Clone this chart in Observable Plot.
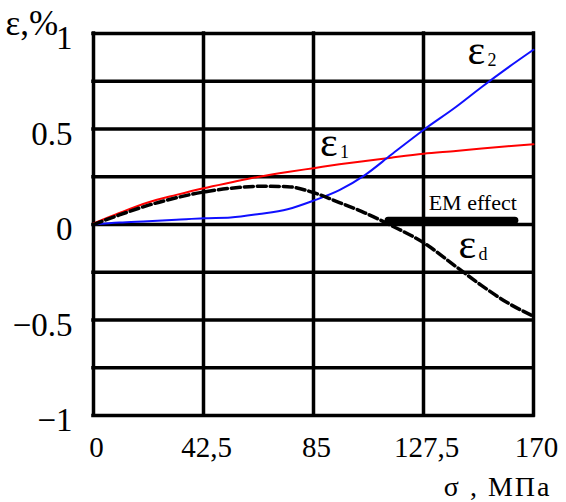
<!DOCTYPE html>
<html>
<head>
<meta charset="utf-8">
<script src="https://cdn.jsdelivr.net/npm/d3@7"></script>
<script src="https://cdn.jsdelivr.net/npm/@observablehq/plot@0.6"></script>
<style>
  html, body { margin: 0; padding: 0; background: #fff; }
  svg { display: block; }
</style>
</head>
<body>
<div id="chart"></div>
<script>
// ---- data ----
const sigma = [0, 10, 21, 32, 42.5, 53, 64, 75, 85, 95, 105, 115, 127.5, 140, 150, 160, 170];
const eps1  = [0.005, 0.06, 0.115, 0.155, 0.19, 0.22, 0.25, 0.275, 0.295, 0.315, 0.333, 0.35, 0.37, 0.385, 0.398, 0.41, 0.42];
const eps2  = [0.0, 0.01, 0.017, 0.025, 0.033, 0.037, 0.055, 0.08, 0.125, 0.18, 0.26, 0.365, 0.495, 0.615, 0.72, 0.82, 0.915];
const epsD  = [0.0, 0.05, 0.10, 0.14, 0.17, 0.19, 0.2, 0.198, 0.167, 0.115, 0.06, -0.005, -0.095, -0.22, -0.32, -0.41, -0.48];

const xTicks = [0, 42.5, 85, 127.5, 170];
const xTickLabels = ["0", "42,5", "85", "127,5", "170"];
const yTicks = [-1, -0.5, 0, 0.5, 1];
const yTickLabels = ["\u22121", "\u22120.5", "0", "0.5", "1"];
const yGrid = [-1, -0.75, -0.5, -0.25, 0, 0.25, 0.5, 0.75, 1];

const seriesNames = ["ε1", "ε2", "εd"];
const emRange = [114, 163];
const emLevel = 0.022;
const emLabel = "EM effect";
const xTitle = "σ , МПа";
const yTitle = "ε,%";

// curve labels: main glyph + subscript, anchored in data units
const curveLabels = [
  {main: "ε", sub: "1", x: 87.5, y: 0.36},
  {main: "ε", sub: "2", x: 144.5, y: 0.84},
  {main: "ε", sub: "d", x: 141, y: -0.175}
];

const rows = [];
sigma.forEach((s, i) => {
  rows.push({s, v: eps1[i], k: seriesNames[0]});
  rows.push({s, v: eps2[i], k: seriesNames[1]});
  rows.push({s, v: epsD[i], k: seriesNames[2]});
});

const serif = "Liberation Serif, Times New Roman, serif";

const plot = Plot.plot({
  width: 566,
  height: 502,
  marginLeft: 93,
  marginRight: 33,
  marginTop: 33,
  marginBottom: 87,
  x: {domain: [0, 170], axis: null},
  y: {domain: [-1, 1], axis: null},
  style: {background: "#fff", fontFamily: serif},
  marks: [
    Plot.ruleX(xTicks, {stroke: "black", strokeWidth: 3.5, strokeLinecap: "square"}),
    Plot.ruleY(yGrid, {stroke: "black", strokeWidth: 3.5, strokeLinecap: "square"}),
    Plot.axisY(yTicks, {
      tickSize: 0, tickPadding: 21, dy: 5,
      tickFormat: (d) => yTickLabels[yTicks.indexOf(d)],
      fontSize: 33, fontFamily: serif, fill: "black", label: null
    }),
    Plot.axisX(xTicks, {
      tickSize: 0, tickPadding: 21, dx: 3,
      tickFormat: (d) => xTickLabels[xTicks.indexOf(d)],
      fontSize: 29, fontFamily: serif, fill: "black", label: null
    }),
    Plot.text([yTitle], {
      frameAnchor: "top-left", textAnchor: "start", lineAnchor: "middle",
      dx: -88, dy: -10, fontSize: 35, fontFamily: serif, fill: "black"
    }),
    Plot.text([xTitle], {
      frameAnchor: "bottom-right", textAnchor: "end", lineAnchor: "bottom",
      dx: 18, dy: 80, fontSize: 28, fontFamily: serif, fill: "black",
      className: "xtitle"
    }),
    Plot.line(rows.filter(d => d.k === seriesNames[0]), {x: "s", y: "v", stroke: "#ff0000", strokeWidth: 2, curve: "monotone-x"}),
    Plot.line(rows.filter(d => d.k === seriesNames[1]), {x: "s", y: "v", stroke: "#1010ff", strokeWidth: 2, curve: "monotone-x"}),
    Plot.line(rows.filter(d => d.k === seriesNames[2]), {x: "s", y: "v", stroke: "black", strokeWidth: 3.5, strokeDasharray: "9,4", curve: "monotone-x"}),
    Plot.ruleY([emLevel], {x1: emRange[0], x2: emRange[1], stroke: "black", strokeWidth: 7, strokeLinecap: "round"}),
    Plot.text([emLabel], {x: 129.5, y: 0.075, textAnchor: "start", lineAnchor: "bottom", fontSize: 22, fontFamily: serif, fill: "black"}),
    Plot.text(curveLabels, {x: "x", y: "y", text: "main", textAnchor: "start", lineAnchor: "bottom", fontSize: 42, fontFamily: serif, fill: "black"}),
    Plot.text(curveLabels, {x: "x", y: "y", text: "sub", textAnchor: "start", lineAnchor: "bottom", dx: 20, dy: 2, fontSize: 18, fontFamily: serif, fill: "black"})
  ]
});

// the reference's axis title is set a little wider
d3.select(plot).selectAll("g.xtitle text").style("letter-spacing", "2px");

document.getElementById("chart").appendChild(plot);
</script>
</body>
</html>
